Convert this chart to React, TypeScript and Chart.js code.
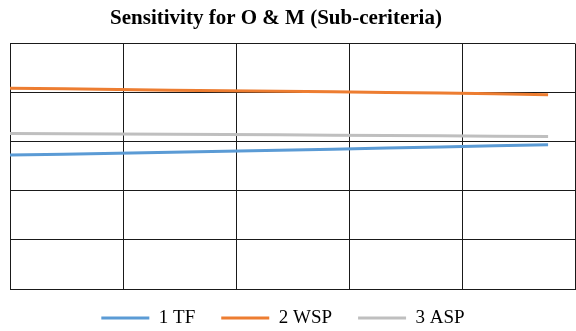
import React, { useEffect, useRef } from "react";
import { Chart, registerables } from "chart.js";

Chart.register(...registerables);

const steps = [0, 1, 2, 3, 4, 5, 6, 7, 8, 9, 10];
const seriesTF = [0.546, 0.549, 0.553, 0.557, 0.561, 0.565, 0.569, 0.574, 0.578, 0.583, 0.588];
const seriesWSP = [0.818, 0.816, 0.813, 0.81, 0.808, 0.806, 0.803, 0.8, 0.798, 0.795, 0.791];
const seriesASP = [0.633, 0.632, 0.631, 0.63, 0.629, 0.628, 0.626, 0.625, 0.624, 0.622, 0.621];
const seriesNames = ["1 TF", "2 WSP", "3 ASP"];
const seriesColors = ["#5B9BD5", "#ED7D31", "#BFBFBF"];
const xGridTicks = [0, 2.1, 4.2, 6.3, 8.4, 10.5];
const yGridTicks = [0, 0.2, 0.4, 0.6, 0.8, 1.0];
const titleText = "Sensitivity for O & M (Sub-ceriteria)";

// layout-only adjustments for the title and legend blocks
const TITLE_CENTER = 276;
const LEGEND_CENTER = 283;
const LEGEND_LIFT = 6.5;

const recenterPlugin = {
  id: "recenter",
  afterLayout(chart: any) {
    const t = chart.titleBlock;
    if (t) {
      t.right = 2 * TITLE_CENTER - t.left;
      t.width = t.right - t.left;
    }
    const l = chart.legend;
    if (l) {
      l.right = 2 * LEGEND_CENTER - l.left;
      l.width = l.right - l.left;
      l.top -= LEGEND_LIFT;
      l.bottom -= LEGEND_LIFT;
    }
  },
};

export default function App() {
  const ref = useRef<HTMLCanvasElement | null>(null);

  useEffect(() => {
    if (!ref.current) return;
    const all = [seriesTF, seriesWSP, seriesASP];
    const chart = new Chart(ref.current, {
      type: "line",
      data: {
        datasets: all.map((s, i) => ({
          label: seriesNames[i],
          data: s.map((v, j) => ({ x: steps[j], y: v })),
          borderColor: seriesColors[i],
          backgroundColor: seriesColors[i],
          borderWidth: 3,
          pointRadius: 0,
          tension: 0,
          fill: false,
        })),
      },
      plugins: [recenterPlugin],
      options: {
        responsive: false,
        animation: false,
        layout: { padding: { left: 10, right: 1, top: 0, bottom: -13 } },
        font: { family: "'Liberation Serif', 'Times New Roman', serif" },
        plugins: {
          title: {
            display: true,
            text: titleText,
            color: "#000",
            font: { family: "'Liberation Serif', serif", size: 21, weight: "bold" },
            padding: { top: 6, bottom: 12.3 },
          },
          legend: {
            position: "bottom",
            labels: {
              usePointStyle: true,
              pointStyle: "line",
              pointStyleWidth: 48,
              boxWidth: 48,
              padding: 26,
              color: "#000",
              font: { family: "'Liberation Serif', serif", size: 19 },
            },
          },
          tooltip: { enabled: false },
        },
        scales: {
          x: {
            type: "linear",
            min: 0,
            max: 10.5,
            afterBuildTicks: (axis: any) => {
              axis.ticks = xGridTicks.map((v) => ({ value: v }));
            },
            ticks: { display: false },
            grid: { color: "#1a1a1a", drawTicks: false, lineWidth: 1 },
            border: { display: true, color: "#1a1a1a" },
          },
          y: {
            type: "linear",
            min: 0,
            max: 1,
            afterBuildTicks: (axis: any) => {
              axis.ticks = yGridTicks.map((v) => ({ value: v }));
            },
            ticks: { display: false },
            grid: { color: "#1a1a1a", drawTicks: false, lineWidth: 1 },
            border: { display: true, color: "#1a1a1a" },
          },
        },
      },
    } as any);
    return () => chart.destroy();
  }, []);

  return (
    <div style={{ position: "absolute", left: 0, top: 0, width: 576, height: 331, background: "#fff" }}>
      <canvas ref={ref} width={576} height={331} />
    </div>
  );
}
